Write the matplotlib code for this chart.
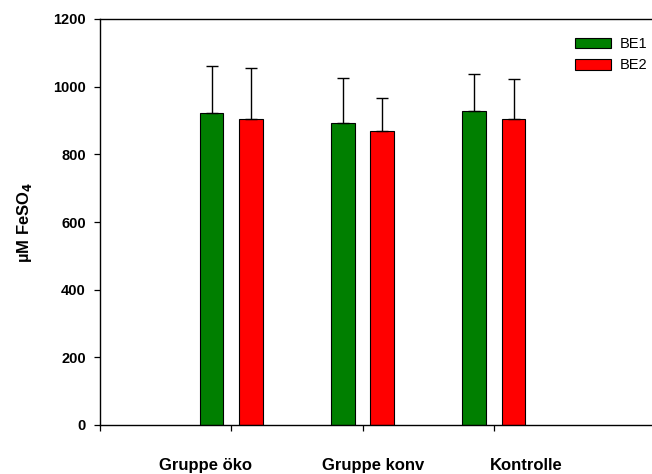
import matplotlib
matplotlib.use("Agg")
import matplotlib.pyplot as plt
import numpy as np

plt.rcParams['font.family'] = ['Liberation Sans', 'DejaVu Sans']

categories = ["Gruppe öko", "Gruppe konv", "Kontrolle"]
series_names = ["BE1", "BE2"]
be1_values = [921, 893, 928]
be1_errors = [139, 133, 110]
be2_values = [905, 869, 905]
be2_errors = [150, 98, 117]
y_ticks = [0, 200, 400, 600, 800, 1000, 1200]

W, H = 652, 474
fig = plt.figure(figsize=(W / 100, H / 100), dpi=100)
left, right, top, bottom = 100, 652, 19, 425
ax = fig.add_axes([left / W, 1 - bottom / H, (right - left) / W, (bottom - top) / H])

x = np.arange(1, len(categories) + 1)
bw = 0.18
off = 0.15
colors = ["#007f00", "#ff0000"]
for vals, errs, shift, col, name in [(be1_values, be1_errors, -off, colors[0], series_names[0]),
                                     (be2_values, be2_errors, off, colors[1], series_names[1])]:
    ax.bar(x + shift, vals, width=bw, color=col, edgecolor="black", linewidth=0.8, label=name, zorder=2)
    ax.errorbar(x + shift, vals, yerr=[np.zeros(len(errs)), errs], fmt="none",
                ecolor="black", elinewidth=1.0, capsize=4.3, capthick=1.0, zorder=3)

ax.set_xlim(0, (right - left) / 131.3)
ax.set_ylim(0, 1200)
ax.set_yticks(y_ticks)
ax.set_yticklabels([str(t) for t in y_ticks], fontsize=10.5, fontweight="bold")
ax.set_xticks([0, 1, 2, 3])
ax.set_xticklabels([])
ax.tick_params(direction="out", length=4.2, width=0.9)
ax.tick_params(axis="y", pad=6)
ax.spines["right"].set_visible(False)
for s in ["left", "bottom", "top"]:
    ax.spines[s].set_linewidth(1.0)

label_x = [0.80, 2.08, 3.25]
trans = matplotlib.transforms.blended_transform_factory(ax.transData, ax.transAxes)
for lx, name in zip(label_x, categories):
    ax.text(lx, -0.099, name, transform=trans, ha="center", va="center",
            fontsize=12, fontweight="bold")

ax.set_ylabel("µM FeSO$_\\mathbf{4}$", fontsize=12, fontweight="bold")
ax.yaxis.set_label_coords(-66 / (right - left), 0.5)

ax.legend(loc="upper left", bbox_to_anchor=(575 / W, 1 - 37 / H), bbox_transform=fig.transFigure,
          frameon=False, fontsize=10.5, borderpad=0, borderaxespad=0, handlelength=2.47,
          handleheight=0.75, handletextpad=0.6, labelspacing=0.5)

fig.savefig("out.png", dpi=100)
